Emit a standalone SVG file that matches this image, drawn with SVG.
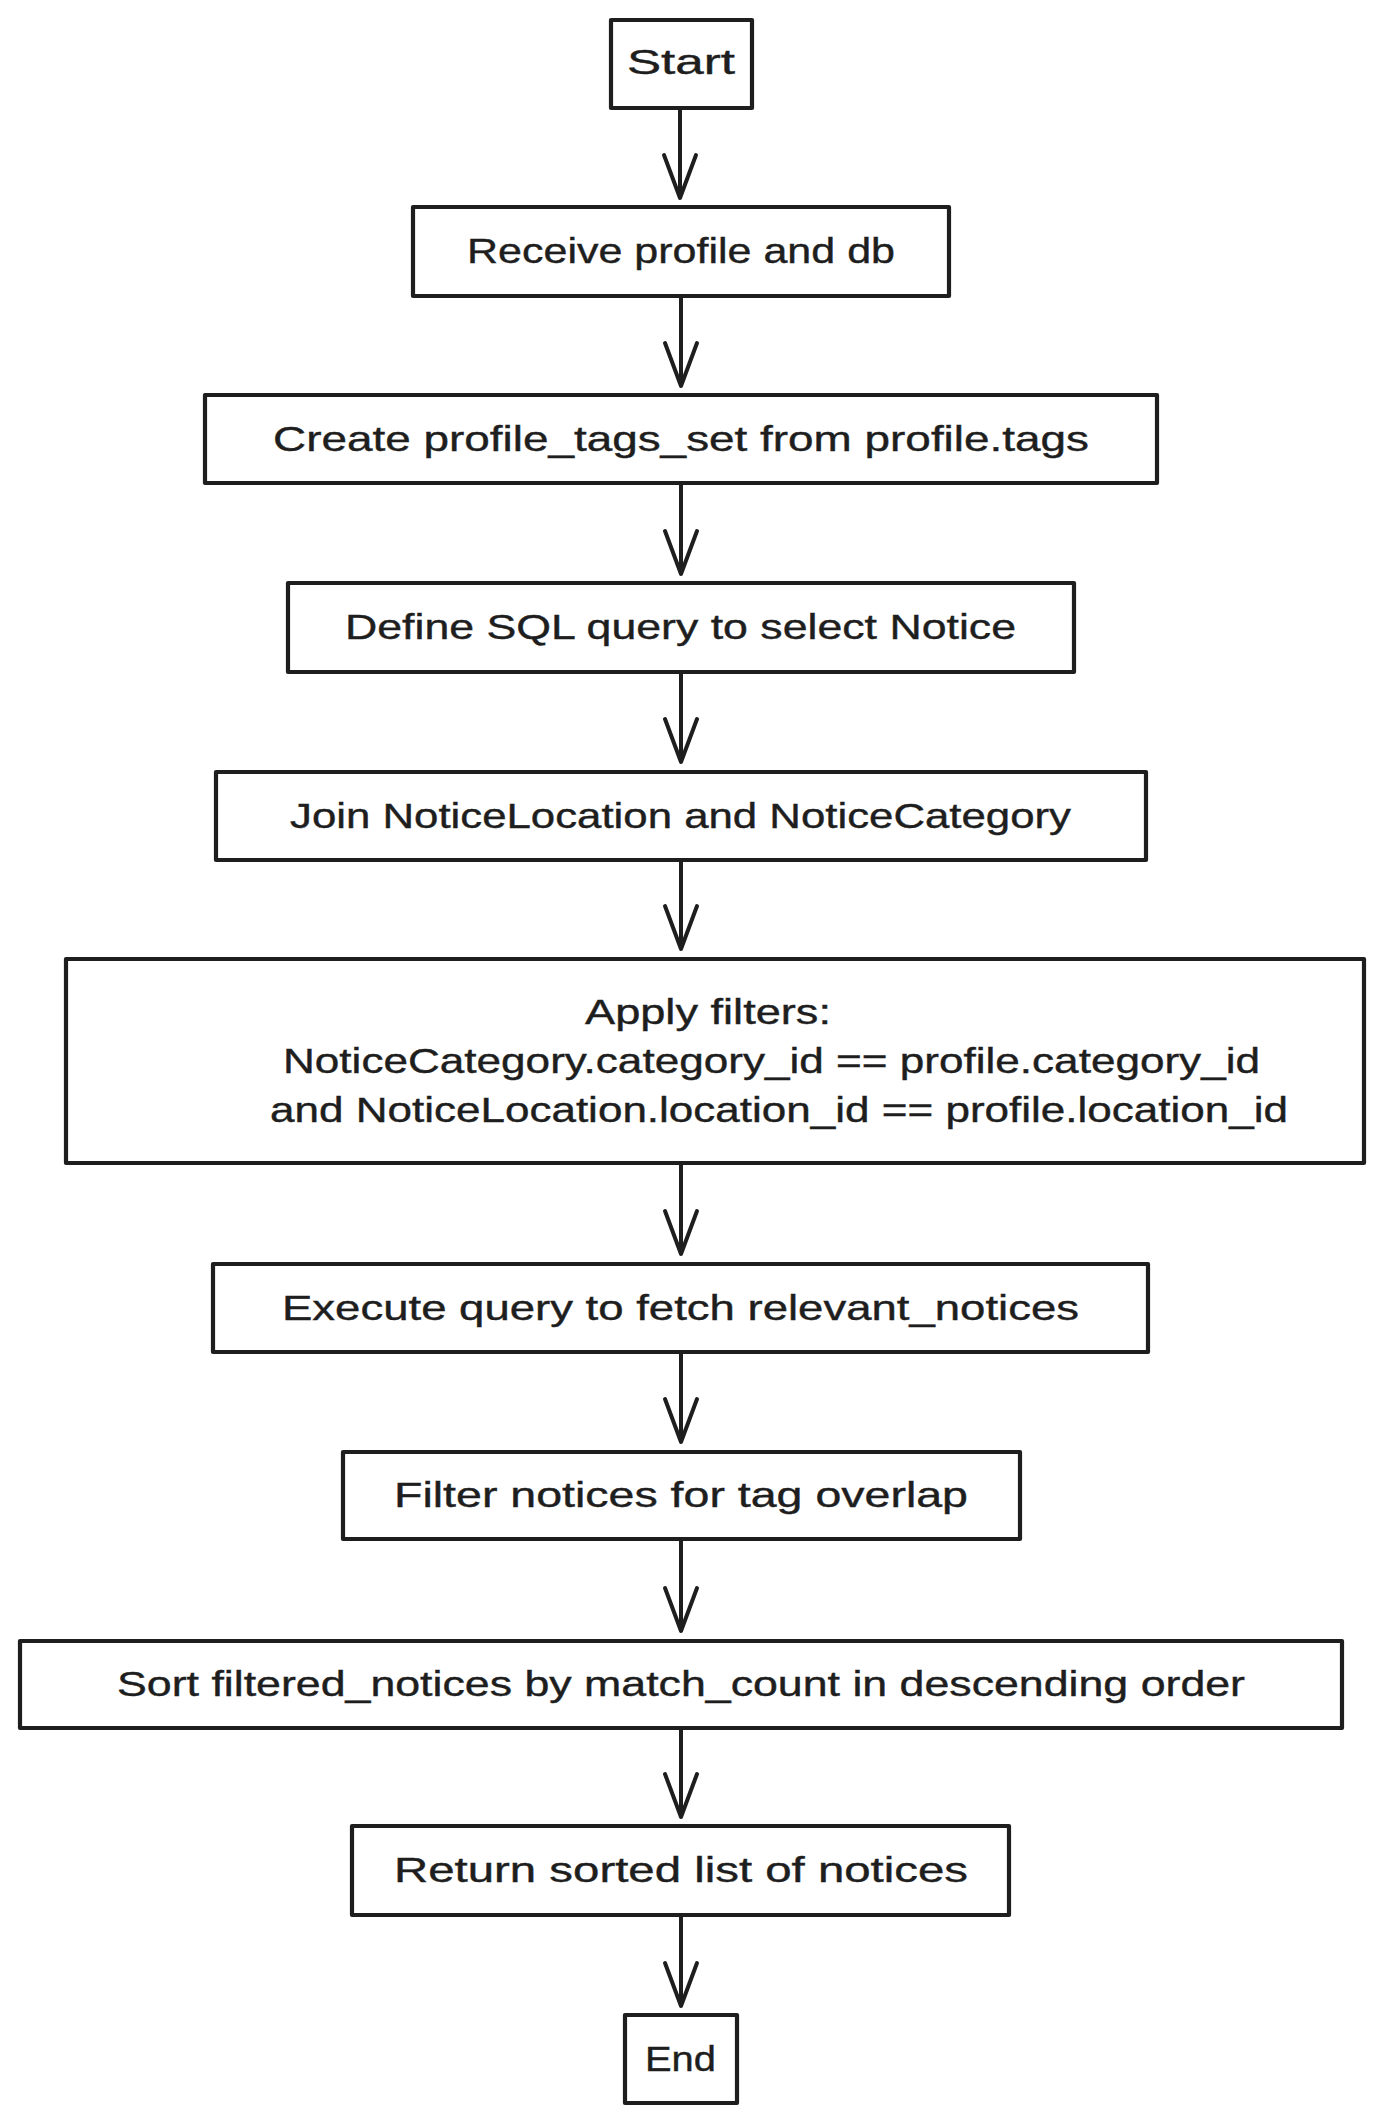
<svg xmlns="http://www.w3.org/2000/svg" width="1384" height="2124" viewBox="0 0 1384 2124">
<style>
.box{fill:#ffffff;stroke:#1e1e1e;stroke-width:4.2;stroke-linejoin:round}
.lbl{font-family:"Liberation Sans","DejaVu Sans",sans-serif;font-size:35px;fill:#1e1e1e;stroke:#1e1e1e;stroke-width:0.4}
.edge{fill:none;stroke:#1e1e1e;stroke-width:4;stroke-linecap:round;stroke-linejoin:round}
</style>
<rect width="1384" height="2124" fill="#ffffff"/>
<g id="connectors">
<path class="edge" d="M680 108 V198 M664 155 L680 198 L696 155"/>
<path class="edge" d="M681 296 V386 M665 343 L681 386 L697 343"/>
<path class="edge" d="M681 483 V574 M665 531 L681 574 L697 531"/>
<path class="edge" d="M681 672 V762 M665 719 L681 762 L697 719"/>
<path class="edge" d="M681 860 V949 M665 906 L681 949 L697 906"/>
<path class="edge" d="M681 1163 V1254 M665 1211 L681 1254 L697 1211"/>
<path class="edge" d="M681 1352 V1442 M665 1399 L681 1442 L697 1399"/>
<path class="edge" d="M681 1539 V1631 M665 1588 L681 1631 L697 1588"/>
<path class="edge" d="M681 1728 V1817 M665 1774 L681 1817 L697 1774"/>
<path class="edge" d="M681 1915 V2006 M665 1963 L681 2006 L697 1963"/>
</g>
<g id="start">
<rect class="box" x="611" y="20" width="141" height="88"/>
<text class="lbl" x="627" y="74" textLength="108" lengthAdjust="spacingAndGlyphs">Start</text>
</g>
<g id="receive">
<rect class="box" x="413" y="207" width="536" height="89"/>
<text class="lbl" x="467" y="263" textLength="428" lengthAdjust="spacingAndGlyphs">Receive profile and db</text>
</g>
<g id="create">
<rect class="box" x="205" y="395" width="952" height="88"/>
<text class="lbl" x="273" y="451" textLength="816" lengthAdjust="spacingAndGlyphs">Create profile_tags_set from profile.tags</text>
</g>
<g id="define">
<rect class="box" x="288" y="583" width="786" height="89"/>
<text class="lbl" x="345" y="639" textLength="671" lengthAdjust="spacingAndGlyphs">Define SQL query to select Notice</text>
</g>
<g id="join">
<rect class="box" x="216" y="772" width="930" height="88"/>
<text class="lbl" x="290" y="828" textLength="781" lengthAdjust="spacingAndGlyphs">Join NoticeLocation and NoticeCategory</text>
</g>
<g id="apply">
<rect class="box" x="66" y="959" width="1298" height="204"/>
<text class="lbl" x="585" y="1024" textLength="246" lengthAdjust="spacingAndGlyphs">Apply filters:</text>
<text class="lbl" x="283" y="1073" textLength="977" lengthAdjust="spacingAndGlyphs">NoticeCategory.category_id == profile.category_id</text>
<text class="lbl" x="270" y="1122" textLength="1018" lengthAdjust="spacingAndGlyphs">and NoticeLocation.location_id == profile.location_id</text>
</g>
<g id="execute">
<rect class="box" x="213" y="1264" width="935" height="88"/>
<text class="lbl" x="282" y="1320" textLength="797" lengthAdjust="spacingAndGlyphs">Execute query to fetch relevant_notices</text>
</g>
<g id="filter">
<rect class="box" x="343" y="1452" width="677" height="87"/>
<text class="lbl" x="394" y="1507" textLength="574" lengthAdjust="spacingAndGlyphs">Filter notices for tag overlap</text>
</g>
<g id="sort">
<rect class="box" x="20" y="1641" width="1322" height="87"/>
<text class="lbl" x="117" y="1696" textLength="1128" lengthAdjust="spacingAndGlyphs">Sort filtered_notices by match_count in descending order</text>
</g>
<g id="return">
<rect class="box" x="352" y="1826" width="657" height="89"/>
<text class="lbl" x="394" y="1882" textLength="574" lengthAdjust="spacingAndGlyphs">Return sorted list of notices</text>
</g>
<g id="end">
<rect class="box" x="625" y="2015" width="112" height="88"/>
<text class="lbl" x="645" y="2071" textLength="71" lengthAdjust="spacingAndGlyphs">End</text>
</g>
</svg>
